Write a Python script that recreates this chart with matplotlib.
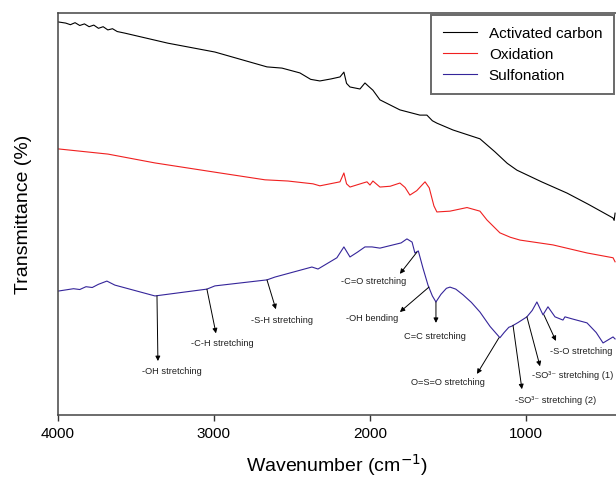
import matplotlib
matplotlib.use("Agg")
import matplotlib.pyplot as plt

plt.rcParams['font.family'] = ['Liberation Sans', 'DejaVu Sans']

# wavenumber (cm-1) / transmittance (arb. %, offset traces)
wn_ac = [4000, 3950, 3920, 3890, 3860, 3830, 3800, 3770, 3740, 3710, 3680, 3650, 3620, 3571,
         3295, 2994, 2660, 2564, 2449, 2380, 2321, 2250, 2192, 2167, 2150, 2128, 2064, 2032,
         2010, 1981, 1936, 1808, 1680, 1635, 1600, 1571, 1468, 1295, 1200, 1120, 1058, 900,
         737, 600, 442, 435, 429]
t_ac = [97.8, 97.5, 97.1, 97.6, 96.9, 97.3, 96.6, 97.0, 96.2, 96.6, 95.8, 96.1, 95.4, 95.0,
        92.5, 90.3, 86.6, 86.3, 85.1, 83.5, 83.1, 83.6, 84.1, 85.3, 82.5, 81.6, 81.1, 82.6,
        81.8, 80.8, 78.4, 75.9, 74.6, 74.6, 73.2, 72.6, 70.9, 68.7, 65.5, 62.6, 60.9, 58.0,
        55.2, 52.4, 49.0, 48.4, 50.2]

wn_ox = [4000, 3679, 3378, 2994, 2673, 2526, 2365, 2321, 2192, 2167, 2150, 2128, 2045, 2019,
         2000, 1981, 1936, 1870, 1808, 1775, 1744, 1700, 1647, 1620, 1590, 1571, 1530, 1487,
         1378, 1295, 1250, 1167, 1100, 1038, 827, 609, 442, 429]
t_ox = [66.2, 64.9, 62.7, 60.4, 58.5, 58.2, 57.5, 57.0, 58.0, 60.2, 57.5, 56.7, 57.7, 58.0,
        57.2, 58.2, 56.7, 56.9, 57.7, 56.6, 54.7, 55.8, 58.0, 56.5, 52.0, 50.5, 50.6, 50.7,
        51.6, 50.7, 48.5, 45.3, 44.2, 43.5, 42.3, 40.3, 39.1, 38.1]

wn_su = [4000, 3900, 3860, 3820, 3780, 3740, 3686, 3635, 3378, 3045, 2994, 2660, 2609, 2372,
         2333, 2212, 2167, 2128, 2080, 2032, 1987, 1936, 1800, 1763, 1730, 1712, 1690, 1660,
         1628, 1600, 1577, 1545, 1510, 1487, 1450, 1404, 1350, 1295, 1230, 1167, 1140, 1110,
         1090, 1050, 994, 960, 930, 891, 859, 814, 763, 750, 705, 609, 550, 506, 442, 429]
t_su = [30.8, 31.4, 31.2, 31.9, 31.7, 32.5, 33.3, 32.3, 29.6, 31.3, 32.1, 33.6, 34.3, 36.8,
        36.3, 39.1, 41.8, 39.3, 40.5, 41.8, 41.8, 41.5, 42.8, 43.8, 43.0, 40.3, 40.8, 36.5,
        32.3, 29.6, 28.1, 30.0, 31.5, 31.8, 31.3, 29.9, 28.0, 25.6, 22.0, 19.2, 20.5, 21.8,
        22.1, 23.0, 24.4, 26.0, 28.1, 24.9, 26.9, 24.4, 23.6, 24.4, 23.9, 22.9, 20.5, 17.9,
        19.4, 18.9]

series_labels = ['Activated carbon', 'Oxidation', 'Sulfonation']

# band assignments: label, point on curve, arrow tip, text centre
bands = [
    ('-OH stretching', (3365, 29.6), (3359, 13.4), (3269, 10.7)),
    ('-C-H stretching', (3045, 31.3), (2987, 20.3), (2949, 17.7)),
    ('-S-H stretching', (2660, 33.6), (2603, 26.3), (2564, 23.4)),
    ('-C=O stretching', (1699, 40.5), (1808, 35.1), (1974, 33.1)),
    ('-OH bending', (1622, 31.8), (1808, 25.6), (1987, 23.9)),
    ('C=C stretching', (1577, 28.1), (1577, 22.9), (1583, 19.4)),
    ('O=S=O stretching', (1173, 19.2), (1314, 10.2), (1500, 8.0)),
    ('-SO\u00b3\u207b stretching (2)', (1083, 22.3), (1026, 6.4), (808, 3.5)),
    ('-SO\u00b3\u207b stretching (1)', (994, 24.4), (910, 12.1), (699, 9.7)),
    ('-S-O stretching', (885, 24.9), (808, 18.4), (647, 15.7)),
]

fig = plt.figure(figsize=(6.16, 4.83), dpi=100)
ax = fig.add_axes([0.094, 0.141, 0.906, 0.832])

ax.plot(wn_ac, t_ac, color='black', lw=0.8, label=series_labels[0])
ax.plot(wn_ox, t_ox, color='#f02020', lw=0.8, label=series_labels[1])
ax.plot(wn_su, t_su, color='#35259a', lw=0.8, label=series_labels[2])

for txt, p0, tip, tpos in bands:
    ax.annotate('', xy=tip, xytext=p0,
                arrowprops=dict(arrowstyle='-|>', color='black', lw=0.7,
                                mutation_scale=7, shrinkA=0, shrinkB=0))
    ax.text(tpos[0], tpos[1], txt, fontsize=6.7, ha='center', va='center', color='#222222')

ax.set_xlim(4000, 423)
ax.set_ylim(0, 100)
ax.set_xticks([4000, 3000, 2000, 1000])
ax.set_yticks([])
ax.tick_params(axis='x', labelsize=11, length=4, width=1, direction='out', pad=5, color='#333333')
ax.spines['right'].set_visible(False)
for s in ['left', 'bottom', 'top']:
    ax.spines[s].set_color('#444444')
    ax.spines[s].set_linewidth(1.1)

ax.set_xlabel('Wavenumber (cm$^{-1}$)', fontsize=14, labelpad=8)
ax.set_ylabel('Transmittance (%)', fontsize=14, labelpad=19)

leg = ax.legend(loc='upper right', fontsize=11, frameon=True, fancybox=False,
                handlelength=2.2, borderaxespad=0.15, labelspacing=0.45,
                borderpad=0.75, handletextpad=0.8)
leg.get_frame().set_edgecolor('#444444')
leg.get_frame().set_linewidth(1.4)

fig.savefig('out.png', dpi=100)
